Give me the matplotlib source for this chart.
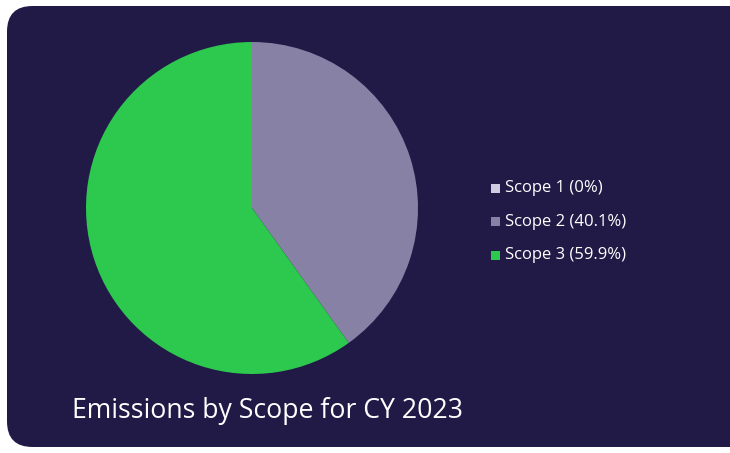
import matplotlib.pyplot as plt
from matplotlib.patches import FancyBboxPatch, Rectangle

# data
scopes = ['Scope 1', 'Scope 2', 'Scope 3']
shares = [0.0, 40.1, 59.9]
colors = ['#cfcbe3', '#8781a6', '#2dc84e']
title = 'Emissions by Scope for CY 2023'

bg = '#211a47'
plt.rcParams['font.family'] = ['Open Sans', 'DejaVu Sans']

W, H = 730, 453
fig = plt.figure(figsize=(W / 100, H / 100), dpi=100)
fig.patch.set_facecolor('white')

# rounded dark card
card = FancyBboxPatch((7 / W, 6 / H), (W + 20) / W, (H - 12) / H,
                      boxstyle='round,pad=0,rounding_size=0.035',
                      transform=fig.transFigure, facecolor=bg, edgecolor='none',
                      mutation_aspect=W / H, zorder=-5)
fig.patches.append(card)

# pie
cx, cy, r = 252, H - 208, 166
ax = fig.add_axes([(cx - r) / W, (cy - r) / H, 2 * r / W, 2 * r / H])
ax.set_zorder(2)
ax.pie(shares, colors=colors, startangle=90, counterclock=False,
       wedgeprops=dict(linewidth=0))
ax.set_xlim(-1, 1)
ax.set_ylim(-1, 1)
ax.set_aspect('equal')
ax.axis('off')

# legend
lx, ly0, dy = 491, 188, 33.5
for i, (s, v, c) in enumerate(zip(scopes, shares, colors)):
    y = ly0 + i * dy
    pct = f'{v:g}%'
    fig.patches.append(Rectangle((lx / W, (H - y - 4.5) / H), 9 / W, 9 / H,
                                 transform=fig.transFigure, facecolor=c, edgecolor='none'))
    fig.text((lx + 14) / W, (H - y) / H, f'{s} ({pct})', color='white',
             fontsize=12, va='center', ha='left')

fig.text(72 / W, (H - 411) / H, title, color='white', fontsize=19.2,
         va='center', ha='left')

fig.savefig('out.png', dpi=100, facecolor=fig.get_facecolor())
